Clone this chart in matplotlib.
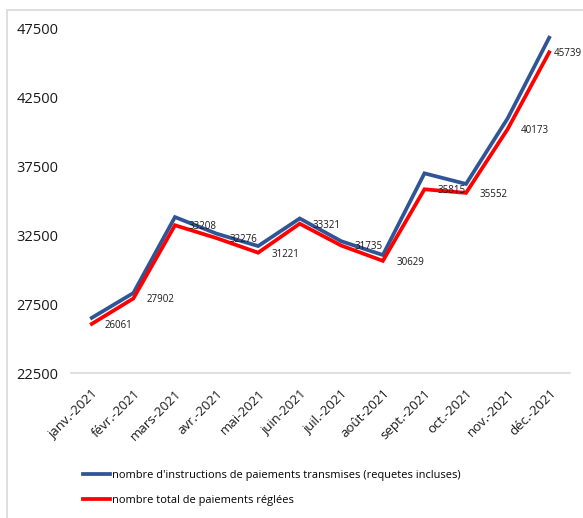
import matplotlib
matplotlib.use("Agg")
import matplotlib.pyplot as plt
from matplotlib.patches import Rectangle

plt.rcParams['font.family'] = ['Open Sans', 'DejaVu Sans']

mois = ["janv.-2021", "févr.-2021", "mars-2021", "avr.-2021", "mai-2021", "juin-2021",
        "juil.-2021", "août-2021", "sept.-2021", "oct.-2021", "nov.-2021", "déc.-2021"]
transmises = [26500, 28300, 33800, 32600, 31700, 33700, 32050, 31050, 36970, 36200, 40950, 46800]
reglees = [26061, 27902, 33208, 32276, 31221, 33321, 31735, 30629, 35815, 35552, 40173, 45739]
yticks = [22500, 27500, 32500, 37500, 42500, 47500]

fig = plt.figure(figsize=(5.83, 5.18), dpi=100)
ax = fig.add_axes([0.1218, 0.2799, 0.8559, 0.666])

# light frame around the chart area
fig.patches.append(Rectangle((7 / 583, -0.1), 1.2, 1 - 10 / 518 + 0.1,
                             transform=fig.transFigure, fill=False,
                             edgecolor="#d9d9d9", linewidth=1.2))

x = range(len(mois))
ax.plot(x, transmises, color="#2f5597", linewidth=2.7, solid_joinstyle="miter",
        label="nombre d'instructions de paiements transmises (requetes incluses)")
ax.plot(x, reglees, color="#ff0000", linewidth=2.7, solid_joinstyle="miter",
        label="nombre total de paiements réglées")

for i, v in enumerate(reglees):
    # last label is pulled in so it stays inside the figure
    dx = 9.5 if i < len(reglees) - 1 else 3.0
    ax.annotate(str(v), (i, v), xytext=(dx, -1.0), textcoords="offset points",
                ha="left", va="center", fontsize=7.0, color="#1a1a1a")

ax.set_xlim(-0.5, len(mois) - 0.5)
ax.set_ylim(22500, 47500)
ax.set_yticks(yticks)
ax.set_yticklabels([str(t) for t in yticks], fontsize=10.5)
ax.set_xticks(list(x))
ax.set_xticklabels(mois, rotation=45, ha="right", rotation_mode="anchor", fontsize=9.5)
ax.tick_params(axis="both", length=0, colors="#1a1a1a")
ax.tick_params(axis="y", pad=9)
ax.tick_params(axis="x", pad=10)

for s in ["top", "right", "left"]:
    ax.spines[s].set_visible(False)
ax.spines["bottom"].set_color("#d9d9d9")
ax.spines["bottom"].set_linewidth(1.2)

fig.legend(loc="upper left", bbox_to_anchor=(0.142, 0.093), frameon=False,
           fontsize=7.9, handlelength=2.5, handletextpad=0.15, labelspacing=1.25,
           borderaxespad=0, borderpad=0)

fig.savefig("out.png", dpi=100)
